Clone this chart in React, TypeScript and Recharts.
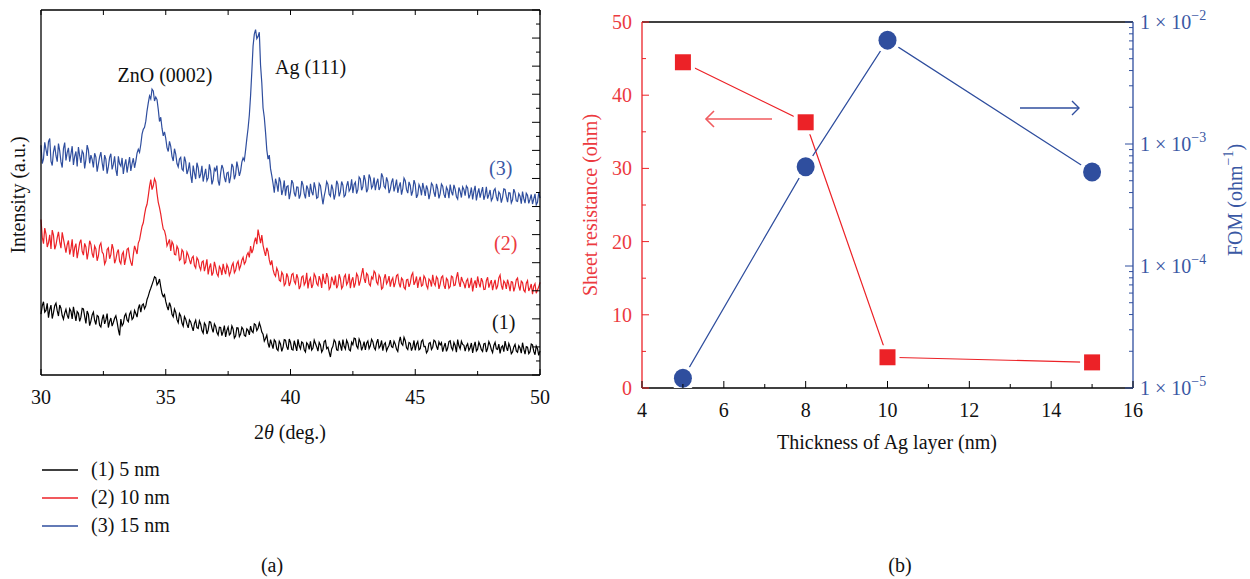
import { LineChart, ComposedChart, Line, XAxis, YAxis } from 'recharts';

const SERIF = 'Liberation Serif, serif';
const BLUE = '#2f4e9e';
const RED = '#ec2227';
const RED_TEXT = '#ec3a3f';
const BLUE_TEXT = '#3a58a4';

// XRD scans, one reading every 0.05 deg from 2θ = 30 to 50 (20 per row = 1 deg)
const SCAN_START = 30;
const SCAN_STEP = 0.05;

const XRD_5NM = [
  21.7, 24.6, 26.1, 22.4, 23.0, 25.5, 20.4, 23.3, 24.9, 20.1, 22.2, 24.7, 25.6, 22.9, 21.0, 24.9, 23.8, 21.2, 19.9, 22.0,
  23.4, 21.3, 20.1, 23.6, 22.7, 20.0, 24.3, 21.8, 19.3, 22.6, 22.0, 19.1, 20.6, 23.7, 23.5, 20.9, 18.4, 22.8, 21.6, 17.6,
  19.2, 21.4, 22.4, 19.5, 18.0, 21.2, 20.8, 17.7, 17.1, 19.8, 21.5, 18.2, 19.6, 21.9, 16.9, 19.0, 20.3, 17.4, 18.7, 20.2,
  21.1, 18.9, 16.2, 14.1, 19.9, 17.5, 18.3, 21.0, 21.8, 19.6, 19.0, 21.7, 22.6, 19.8, 20.4, 23.0, 21.9, 20.6, 23.7, 25.1,
  22.4, 24.8, 25.3, 23.6, 24.6, 26.9, 28.1, 29.7, 30.9, 32.2, 33.5, 35.0, 34.6, 32.1, 32.8, 34.2, 31.4, 29.0, 27.9, 28.6,
  26.2, 24.5, 23.1, 25.8, 24.4, 21.6, 20.7, 23.5, 22.3, 19.7, 18.6, 21.9, 21.0, 18.5, 17.4, 20.8, 19.9, 18.1, 16.8, 19.6,
  18.9, 17.2, 15.7, 18.4, 19.5, 16.9, 16.6, 19.3, 18.1, 15.8, 14.9, 18.5, 17.7, 14.6, 16.0, 19.0, 18.8, 16.7, 15.2, 18.2,
  17.3, 15.1, 14.2, 17.0, 16.9, 14.0, 15.5, 17.6, 13.6, 15.9, 17.1, 14.3, 14.8, 17.5, 16.4, 13.2, 13.9, 16.8, 16.7, 13.7,
  14.6, 17.0, 16.3, 14.1, 13.8, 16.4, 15.9, 14.3, 17.4, 15.6, 15.1, 18.2, 17.9, 15.8, 16.6, 18.6, 17.2, 15.3, 14.5, 12.1,
  13.0, 14.2, 11.3, 9.8, 12.6, 11.0, 9.4, 12.5, 11.9, 9.3, 8.7, 12.0, 11.1, 8.4, 9.8, 12.6, 12.4, 10.1, 9.0, 12.8,
  11.6, 9.1, 8.9, 12.2, 10.5, 8.6, 12.7, 10.4, 9.3, 11.8, 11.4, 9.0, 8.2, 11.5, 10.9, 9.1, 12.0, 8.9, 9.6, 12.4,
  11.2, 10.0, 8.5, 11.6, 10.7, 8.2, 9.1, 11.9, 12.3, 9.4, 9.9, 8.1, 6.4, 9.3, 10.2, 12.5, 11.8, 9.0, 8.8, 12.2,
  10.6, 8.7, 12.6, 10.2, 9.2, 12.4, 11.3, 9.0, 8.6, 11.7, 10.8, 13.1, 12.9, 10.3, 9.5, 12.8, 11.7, 8.8, 10.1, 11.9,
  8.9, 11.3, 12.1, 9.4, 10.4, 12.7, 11.9, 9.8, 9.0, 11.4, 12.8, 9.6, 10.3, 12.3, 8.7, 10.9, 11.5, 8.6, 9.7, 10.6,
  12.4, 10.1, 9.8, 12.0, 11.0, 9.2, 8.4, 11.7, 13.6, 11.2, 10.6, 13.4, 12.2, 9.7, 9.1, 11.6, 11.3, 8.7, 10.0, 12.3,
  8.8, 11.0, 11.9, 9.0, 9.4, 12.0, 12.5, 10.1, 10.2, 7.9, 8.6, 11.3, 11.6, 9.1, 9.9, 12.4, 12.0, 10.3, 9.0, 11.8,
  10.7, 11.5, 8.3, 10.0, 11.4, 8.4, 9.6, 11.9, 12.2, 9.8, 8.9, 11.6, 10.5, 8.1, 12.6, 10.4, 9.3, 12.0, 10.9, 10.6,
  8.5, 10.3, 11.1, 8.8, 9.7, 11.4, 7.9, 10.2, 11.8, 8.6, 9.2, 11.7, 10.6, 9.0, 8.4, 11.1, 11.3, 8.2, 9.5, 11.9,
  10.8, 9.1, 8.0, 10.5, 11.6, 9.3, 9.1, 11.0, 7.7, 9.9, 10.4, 8.3, 12.1, 9.9, 8.6, 11.2, 10.0, 7.6, 8.2, 10.0,
  10.9, 8.6, 8.1, 10.4, 9.6, 7.8, 11.5, 9.2, 7.4, 10.1, 9.9, 7.6, 8.3, 11.0, 10.7, 8.4, 7.2, 10.3, 9.4, 7.0,
  8.6,
];

const XRD_10NM = [
  55.4, 49.1, 46.8, 52.3, 50.2, 45.6, 47.1, 49.9, 44.9, 51.6, 49.8, 44.8, 46.3, 48.9, 51.0, 47.4, 45.2, 50.8, 48.4, 46.1,
  43.6, 46.4, 47.9, 42.9, 45.0, 48.3, 42.1, 45.4, 46.8, 41.6, 44.3, 47.1, 48.2, 44.0, 42.7, 46.9, 45.6, 41.2, 43.9, 47.8,
  46.5, 43.2, 41.8, 45.9, 44.9, 40.7, 42.4, 46.1, 47.0, 43.8, 43.1, 39.5, 40.6, 44.7, 45.3, 41.4, 42.9, 46.6, 44.8, 39.8,
  41.2, 43.6, 44.7, 40.5, 39.6, 42.9, 43.8, 39.2, 41.5, 44.8, 45.2, 42.0, 40.1, 38.9, 42.9, 46.0, 44.6, 43.1, 47.0, 48.1,
  50.6, 53.0, 54.2, 57.1, 59.5, 60.8, 63.8, 67.2, 69.6, 66.0, 67.4, 69.9, 68.8, 64.7, 61.5, 59.6, 57.3, 54.4, 52.0, 51.4,
  49.6, 46.0, 47.1, 48.3, 44.2, 47.5, 46.5, 43.0, 42.8, 45.9, 44.9, 40.8, 41.3, 44.6, 43.9, 39.7, 40.2, 43.8, 42.7, 41.0,
  39.5, 41.7, 42.3, 39.0, 38.1, 41.8, 41.0, 38.6, 37.4, 40.2, 40.6, 37.0, 38.9, 41.2, 35.8, 38.3, 39.7, 35.4, 36.5, 40.3,
  38.4, 36.1, 35.2, 38.7, 37.9, 35.6, 39.6, 37.4, 35.9, 39.3, 38.2, 35.5, 36.7, 38.9, 39.9, 36.4, 37.3, 39.6, 40.5, 37.6,
  38.8, 40.9, 41.9, 39.5, 40.3, 42.7, 43.6, 41.9, 45.9, 43.4, 44.7, 47.3, 48.9, 46.6, 51.8, 49.4, 47.0, 49.8, 46.2, 44.1,
  42.4, 45.3, 44.0, 41.0, 39.1, 40.8, 37.6, 36.0, 35.2, 38.1, 36.9, 33.8, 33.4, 36.6, 35.7, 31.9, 32.6, 36.2, 34.9, 31.7,
  33.1, 35.8, 36.2, 33.4, 32.5, 35.9, 34.4, 30.6, 31.7, 34.9, 35.3, 32.1, 33.0, 36.4, 30.8, 33.7, 34.6, 31.0, 32.2, 36.0,
  35.1, 32.6, 31.9, 35.2, 33.8, 31.0, 36.0, 33.5, 32.4, 36.3, 34.9, 30.5, 31.3, 35.0, 33.6, 32.0, 35.4, 30.9, 32.0, 35.9,
  34.3, 30.8, 31.6, 34.9, 35.7, 32.2, 33.1, 36.0, 30.9, 33.6, 34.8, 31.1, 32.6, 36.1, 35.2, 31.8, 33.5, 35.9, 38.1, 34.4,
  32.8, 36.2, 35.6, 32.5, 31.8, 34.9, 34.2, 37.0, 36.3, 33.1, 32.3, 35.6, 34.7, 30.6, 31.1, 34.3, 35.9, 32.5, 33.4, 35.2,
  31.5, 33.7, 34.6, 31.3, 32.9, 35.4, 35.8, 32.6, 31.2, 34.5, 33.9, 31.2, 30.6, 33.9, 34.1, 31.4, 32.7, 35.5, 36.4, 32.1,
  33.2, 35.1, 31.0, 33.6, 35.0, 31.7, 32.1, 35.3, 34.5, 31.9, 30.8, 34.2, 33.6, 31.5, 35.7, 32.8, 31.9, 35.0, 34.3, 30.7,
  32.4, 34.8, 35.3, 32.0, 30.7, 34.4, 33.8, 30.9, 31.5, 35.2, 34.9, 31.8, 32.0, 34.7, 36.6, 33.2, 31.4, 34.9, 33.5, 32.6,
  30.9, 33.5, 34.2, 31.0, 32.3, 34.6, 29.8, 32.4, 33.7, 31.0, 35.1, 32.7, 31.2, 34.5, 33.3, 30.4, 30.5, 33.6, 34.8, 31.1,
  32.6, 33.8, 30.2, 32.4, 33.9, 30.5, 31.7, 34.6, 35.6, 32.0, 30.4, 33.5, 32.8, 30.7, 34.0, 32.2, 29.9, 33.3, 33.1, 29.8,
  31.4, 33.9, 34.5, 31.6, 30.1, 33.4, 32.9, 30.2, 29.6, 32.7, 33.6, 29.9, 31.0, 32.4, 28.8, 31.6, 32.5, 29.1, 30.3, 31.4,
  33.0,
];

const XRD_15NM = [
  81.8, 75.3, 77.0, 82.9, 80.3, 78.0, 83.1, 84.2, 76.2, 74.6, 79.5, 81.7, 78.1, 76.0, 82.4, 79.8, 75.9, 73.9, 80.6, 82.8,
  76.4, 79.2, 80.9, 76.0, 78.7, 81.5, 74.8, 77.9, 79.6, 74.3, 81.2, 78.1, 75.5, 79.8, 78.9, 73.6, 76.8, 81.9, 80.1, 75.4,
  78.3, 76.8, 73.9, 79.0, 77.6, 72.4, 75.1, 77.7, 79.4, 75.6, 72.8, 78.3, 76.9, 71.7, 74.2, 77.5, 78.8, 73.2, 75.0, 77.9,
  73.1, 70.9, 77.9, 75.2, 74.4, 77.3, 71.6, 74.8, 76.8, 72.1, 74.9, 77.6, 72.7, 75.3, 77.2, 73.8, 76.1, 79.0, 80.4, 79.3,
  82.1, 85.8, 87.5, 88.2, 90.4, 94.1, 96.9, 99.4, 98.3, 101.8, 101.2, 97.6, 99.0, 98.1, 94.6, 90.3, 91.8, 87.9, 85.2, 86.6,
  84.3, 81.0, 79.6, 83.2, 81.4, 77.9, 76.2, 80.6, 78.7, 75.3, 74.1, 76.9, 77.5, 73.4, 72.8, 77.8, 75.9, 71.6, 73.0, 75.7,
  71.2, 68.4, 74.6, 72.0, 69.8, 75.6, 73.9, 70.1, 71.5, 74.5, 68.9, 71.3, 73.4, 69.2, 70.2, 75.0, 72.7, 67.9, 69.5, 73.6,
  72.8, 74.6, 69.1, 67.5, 71.9, 74.8, 73.5, 70.4, 68.7, 71.9, 72.2, 68.3, 70.6, 75.2, 74.1, 69.7, 71.4, 76.0, 73.8, 70.9,
  72.6, 75.8, 77.3, 76.4, 80.1, 84.2, 87.9, 92.6, 99.5, 108.1, 117.2, 121.4, 123.0, 119.8, 120.6, 122.1, 110.3, 104.0, 95.1, 91.7,
  86.4, 80.2, 76.9, 78.3, 73.5, 71.0, 68.2, 64.9, 69.9, 68.1, 65.3, 70.4, 68.8, 64.1, 66.0, 69.3, 63.9, 67.1, 67.4, 62.6,
  65.1, 69.4, 68.3, 64.8, 63.6, 67.0, 66.9, 62.8, 64.2, 69.1, 67.7, 64.6, 62.9, 67.5, 66.3, 63.4, 68.1, 65.2, 64.0, 68.6,
  66.5, 62.9, 63.3, 68.2, 67.4, 64.0, 60.8, 63.7, 65.8, 68.9, 67.9, 64.4, 63.7, 67.8, 66.1, 62.5, 64.5, 69.2, 68.0, 63.6,
  65.2, 68.9, 67.6, 63.5, 64.1, 67.4, 69.0, 65.5, 66.3, 69.7, 64.8, 67.9, 68.7, 64.6, 66.0, 70.5, 69.8, 65.8, 67.1, 71.2,
  69.3, 65.1, 66.2, 71.4, 70.1, 66.5, 67.4, 70.3, 65.8, 68.4, 69.9, 65.9, 67.0, 71.8, 70.6, 67.2, 66.5, 70.4, 68.9, 64.8,
  66.1, 68.7, 70.0, 65.4, 67.3, 69.6, 64.9, 67.1, 68.6, 64.2, 66.4, 70.1, 69.2, 66.0, 64.8, 68.8, 67.5, 63.9, 65.6, 69.4,
  67.9, 63.1, 64.2, 67.8, 66.7, 64.0, 68.4, 66.2, 63.8, 67.5, 66.0, 62.6, 64.9, 68.3, 67.6, 65.0, 63.5, 68.1, 66.3, 62.9,
  64.6, 68.0, 67.2, 64.4, 63.1, 66.9, 65.9, 63.0, 67.8, 65.3, 64.0, 67.7, 66.2, 63.5, 62.7, 66.8, 65.5, 63.2, 67.0, 66.1,
  63.9, 67.3, 66.6, 62.9, 64.3, 66.8, 62.5, 65.4, 67.4, 62.2, 64.7, 66.5, 63.2, 65.1, 66.9, 62.4, 64.1, 67.0, 62.8, 64.2,
  65.9, 62.1, 63.0, 65.7, 66.4, 63.5, 61.9, 65.2, 64.5, 61.4, 63.3, 66.3, 66.1, 63.6, 61.6, 64.9, 64.8, 61.3, 62.4, 66.2,
  64.9, 62.0, 61.8, 64.6, 63.7, 61.0, 65.3, 62.8, 61.2, 64.7, 64.0, 61.1, 62.6, 64.3, 60.9, 62.7, 64.5, 60.6, 61.5, 65.1,
  63.0,
];

const XRD_TICKS = [30, 32.5, 35, 37.5, 40, 42.5, 45, 47.5, 50];
const XRD_SIDE_TICKS = [0, 5, 10, 15, 20, 25, 30, 35, 40, 45, 50, 55, 60, 65, 70, 75, 80, 85, 90, 95, 100, 105, 110, 115, 120, 125, 130];

const THICKNESS = [5, 8, 10, 15];
const SHEET_RESISTANCE = [44.5, 36.3, 4.2, 3.5];
const FOM = [1.2e-5, 6.5e-4, 7.1e-3, 5.9e-4];

const THICKNESS_TICKS = [4, 5, 6, 7, 8, 9, 10, 11, 12, 13, 14, 15, 16];
const RES_TICKS = [0, 5, 10, 15, 20, 25, 30, 35, 40, 45, 50];
const FOM_TICKS = [1e-5, 1e-4, 1e-3].flatMap((d) => [1, 2, 3, 4, 5, 6, 7, 8, 9].map((m) => m * d)).concat(1e-2);

const xrdData = XRD_5NM.map((v, i) => ({
  x: +(SCAN_START + i * SCAN_STEP).toFixed(2),
  s1: v,
  s2: XRD_10NM[i],
  s3: XRD_15NM[i]
}));

const filmData = THICKNESS.map((t, i) => ({ t, res: SHEET_RESISTANCE[i], fom: FOM[i] }));

const isDecade = (v: number) => Math.abs(Math.log10(v) - Math.round(Math.log10(v))) < 1e-6;

// inward ticks, drawn by hand so they point into the plot
const XrdBottomTick = ({ x, y, payload }: any) => {
  const major = payload.value % 5 === 0;
  return (
    <g>
      <line x1={x} x2={x} y1={y} y2={y - (major ? 6 : 4)} stroke="#000" />
      {major && (
        <text x={x} y={y + 29} textAnchor="middle" fontSize={20} fontFamily={SERIF} fill="#111">
          {payload.value}
        </text>
      )}
    </g>
  );
};

const XrdTopTick = ({ x, y }: any) => (
  <g>
    <line x1={x} x2={x} y1={y} y2={y + 5} stroke="#000" />
  </g>
);

const XrdRightTick = ({ x, y, payload }: any) => {
  const major = payload.value % 10 === 0;
  return (
    <g>
      <line x1={x} x2={x - (major ? 8 : 4)} y1={y} y2={y} stroke="#000" />
    </g>
  );
};

const ThicknessTick = ({ x, y, payload }: any) => {
  const major = payload.value % 2 === 0;
  return (
    <g>
      <line x1={x} x2={x} y1={y} y2={y - (major ? 7 : 4)} stroke="#000" />
      {major && (
        <text x={x} y={y + 29} textAnchor="middle" fontSize={20} fontFamily={SERIF} fill="#111">
          {payload.value}
        </text>
      )}
    </g>
  );
};

const ResTick = ({ x, y, payload }: any) => {
  const major = payload.value % 10 === 0;
  return (
    <g>
      <line x1={x} x2={x + (major ? 7 : 4)} y1={y} y2={y} stroke={RED} />
      {major && (
        <text x={x - 10} y={y + 7} textAnchor="end" fontSize={20} fontFamily={SERIF} fill={RED_TEXT}>
          {payload.value}
        </text>
      )}
    </g>
  );
};

const FomTick = ({ x, y, payload }: any) => {
  const major = isDecade(payload.value);
  return (
    <g>
      <line x1={x} x2={x - (major ? 8 : 4)} y1={y} y2={y} stroke={BLUE} />
      {major && (
        <text x={x + 7} y={y + 7} fontSize={20} fontFamily={SERIF} fill={BLUE_TEXT}>
          1 × 10
          <tspan dy={-9} fontSize={14}>
            −{-Math.round(Math.log10(payload.value))}
          </tspan>
        </text>
      )}
    </g>
  );
};

const SquareDot = ({ cx, cy, index }: any) => (
  <g key={`sq-${index}`}>
    <rect x={cx - 12} y={cy - 12} width={24} height={24} fill="#fff" />
    <rect x={cx - 8} y={cy - 8} width={16} height={16} fill={RED} />
  </g>
);

const CircleDot = ({ cx, cy, index }: any) => (
  <g key={`ci-${index}`}>
    <circle cx={cx} cy={cy} r={13} fill="#fff" />
    <ellipse cx={cx} cy={cy} rx={9} ry={9.5} fill={BLUE} />
  </g>
);

export default function App() {
  return (
    <div
      style={{
        position: 'absolute',
        left: 0,
        top: 0,
        width: 1250,
        height: 579,
        background: '#fff',
        fontFamily: SERIF,
        overflow: 'hidden'
      }}
    >
      <div style={{ position: 'absolute', left: 0, top: 0 }}>
        <LineChart width={560} height={450} data={xrdData} margin={{ top: 9, right: 19, bottom: 15, left: 40 }}>
          {/* the side axes share one scale, so each trace hangs off a different one */}
          <Line dataKey="s3" type="linear" stroke={BLUE} strokeWidth={1.2} dot={false} isAnimationActive={false} />
          <Line
            dataKey="s2"
            xAxisId="top"
            type="linear"
            stroke={RED}
            strokeWidth={1.2}
            dot={false}
            isAnimationActive={false}
          />
          <Line
            dataKey="s1"
            yAxisId="r"
            type="linear"
            stroke="#000"
            strokeWidth={1.2}
            dot={false}
            isAnimationActive={false}
          />
          <XAxis
            dataKey="x"
            type="number"
            domain={[30, 50]}
            ticks={XRD_TICKS}
            interval={0}
            height={60}
            tickSize={0}
            tickMargin={0}
            tickLine={false}
            tick={XrdBottomTick}
            axisLine={{ stroke: '#000', strokeWidth: 1.3 }}
          />
          <XAxis
            xAxisId="top"
            orientation="top"
            dataKey="x"
            type="number"
            domain={[30, 50]}
            ticks={XRD_TICKS}
            interval={0}
            height={1}
            tickSize={0}
            tickMargin={0}
            tickLine={false}
            tick={XrdTopTick}
            axisLine={{ stroke: '#000', strokeWidth: 1.3 }}
          />
          <YAxis domain={[0, 130]} width={1} tick={false} tickLine={false} axisLine={{ stroke: '#000', strokeWidth: 1.3 }} />
          <YAxis
            yAxisId="r"
            orientation="right"
            domain={[0, 130]}
            ticks={XRD_SIDE_TICKS}
            interval={0}
            width={1}
            tickSize={0}
            tickMargin={0}
            tickLine={false}
            tick={XrdRightTick}
            axisLine={{ stroke: '#000', strokeWidth: 1.3 }}
          />
        </LineChart>
      </div>

      <div style={{ position: 'absolute', left: 560, top: 0 }}>
        <ComposedChart width={690} height={450} data={filmData} margin={{ top: 21, right: 116, bottom: 12, left: 81 }}>
          <Line
            yAxisId="res"
            dataKey="res"
            type="linear"
            stroke={RED}
            strokeWidth={1.2}
            dot={SquareDot}
            activeDot={false}
            isAnimationActive={false}
          />
          <Line
            yAxisId="fom"
            dataKey="fom"
            type="linear"
            stroke={BLUE}
            strokeWidth={1.2}
            dot={CircleDot}
            activeDot={false}
            isAnimationActive={false}
          />
          <XAxis
            dataKey="t"
            type="number"
            domain={[4, 16]}
            ticks={THICKNESS_TICKS}
            interval={0}
            height={50}
            tickSize={0}
            tickMargin={0}
            tickLine={false}
            tick={ThicknessTick}
            axisLine={{ stroke: '#000', strokeWidth: 1.3 }}
          />
          <XAxis
            xAxisId="top"
            orientation="top"
            dataKey="t"
            type="number"
            domain={[4, 16]}
            height={1}
            tick={false}
            tickLine={false}
            axisLine={{ stroke: '#000', strokeWidth: 1.3 }}
          />
          <YAxis
            yAxisId="res"
            domain={[0, 50]}
            ticks={RES_TICKS}
            interval={0}
            width={1}
            tickSize={0}
            tickMargin={0}
            tickLine={false}
            tick={ResTick}
            axisLine={{ stroke: RED, strokeWidth: 1.3 }}
          />
          <YAxis
            yAxisId="fom"
            orientation="right"
            scale="log"
            domain={[1e-5, 1e-2]}
            allowDataOverflow
            ticks={FOM_TICKS}
            interval={0}
            width={1}
            tickSize={0}
            tickMargin={0}
            tickLine={false}
            tick={FomTick}
            axisLine={{ stroke: BLUE, strokeWidth: 1.3 }}
          />
        </ComposedChart>
      </div>

      <svg
        width={1250}
        height={579}
        style={{ position: 'absolute', left: 0, top: 0, pointerEvents: 'none' }}
        fontFamily={SERIF}
        fontSize={20}
      >
        {/* (a) annotations and titles */}
        <text x={165} y={82} textAnchor="middle" fill="#111">ZnO (0002)</text>
        <text x={275} y={74} fill="#111">Ag (111)</text>
        <text x={489} y={175} fill={BLUE_TEXT}>(3)</text>
        <text x={494} y={250} fill={RED_TEXT}>(2)</text>
        <text x={492} y={329} fill="#111">(1)</text>
        <text transform="translate(25,195) rotate(-90)" textAnchor="middle" fill="#111">Intensity (a.u.)</text>
        <text x={290} y={439} textAnchor="middle" fill="#111">
          2<tspan fontStyle="italic">θ</tspan> (deg.)
        </text>

        <line x1={42} x2={78} y1={470} y2={470} stroke="#000" strokeWidth={1.5} />
        <line x1={42} x2={78} y1={498} y2={498} stroke={RED} strokeWidth={1.5} />
        <line x1={42} x2={78} y1={526} y2={526} stroke={BLUE} strokeWidth={1.5} />
        <text x={91} y={476} fill="#111">(1) 5 nm</text>
        <text x={91} y={504} fill="#111">(2) 10 nm</text>
        <text x={91} y={532} fill="#111">(3) 15 nm</text>
        <text x={272} y={572} textAnchor="middle" fill="#111">(a)</text>

        {/* (b) titles and axis pointers */}
        <text transform="translate(597,205) rotate(-90)" textAnchor="middle" fill={RED_TEXT}>Sheet resistance (ohm)</text>
        <text transform="translate(1242,200) rotate(-90)" textAnchor="middle" fill={BLUE_TEXT}>
          FOM (ohm
          <tspan dy={-9} fontSize={14}>−1</tspan>
          <tspan dy={9}>)</tspan>
        </text>
        <text x={887} y={449} textAnchor="middle" fill="#111">Thickness of Ag layer (nm)</text>
        <text x={900} y={572} textAnchor="middle" fill="#111">(b)</text>

        <g stroke="#f05a5e" strokeWidth={1.6} fill="none">
          <line x1={772} x2={706} y1={119} y2={119} />
          <polyline points="714,111 706,119 714,127" />
        </g>
        <g stroke={BLUE} strokeWidth={1.4} fill="none">
          <line x1={1020} x2={1079} y1={108} y2={108} />
          <polyline points="1072,101 1079,108 1072,115" />
        </g>
      </svg>
    </div>
  );
}
